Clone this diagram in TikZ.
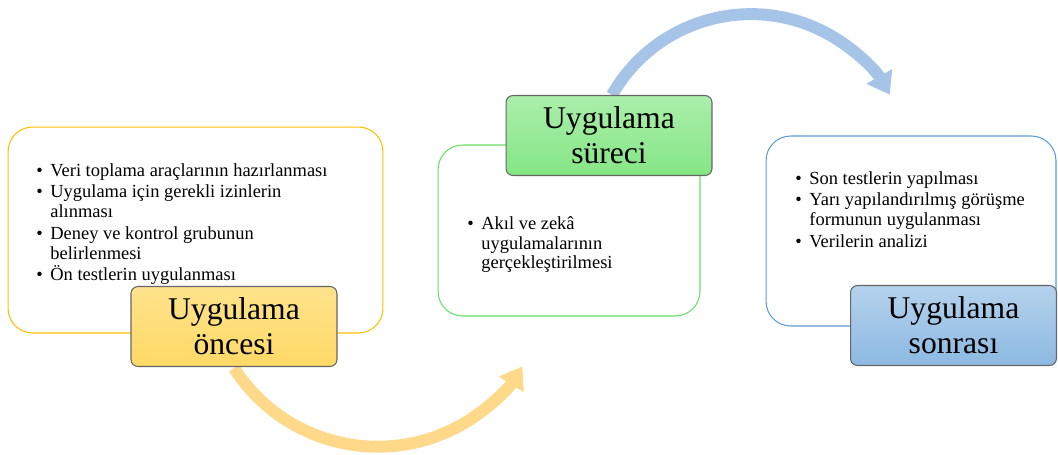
\documentclass[tikz,border=0pt]{standalone}
\usepackage{fontspec}
\setmainfont{Liberation Serif}
\usetikzlibrary{arrows.meta}

\definecolor{boxorange}{HTML}{FFC000}
\definecolor{boxgreen}{HTML}{66E066}
\definecolor{boxblue}{HTML}{5B9BD5}
\definecolor{arcorange}{HTML}{FFD98A}
\definecolor{arcblue}{HTML}{A6C3E8}

\newcommand{\bl}{\makebox[8pt][l]{\textbullet}}
\newcommand{\nobl}{\hspace*{8pt}}

\tikzset{
  outerbox/.style={draw, fill=white, rounded corners=14pt, line width=0.6pt},
  titlebox/.style={draw=black!60, rounded corners=4pt, line width=0.6pt,
    minimum width=4.12cm, minimum height=1.6cm, align=center,
    font=\fontsize{18}{20}\selectfont, inner sep=0pt},
  listtext/.style={anchor=north west, align=left, inner sep=0pt,
    font=\fontsize{10.5}{11.3}\selectfont},
  bigarc/.style={line width=6.8pt, -{Triangle[width=16pt,length=12pt]}},
}

\begin{document}
\begin{tikzpicture}[x=0.02cm, y=-0.02cm]
\useasboundingbox (0,0) rectangle (1058,454);

% arrows behind the boxes
\path (234,368) coordinate (onceend);
\path (612,95) coordinate (sureend);
\draw[bigarc, arcorange] (onceend) arc[start angle=147.4, end angle=32, radius=170.6];
\draw[bigarc, arcblue] (sureend) arc[start angle=209.6, end angle=330.3, radius=159.8];

% outer boxes
\node[outerbox, draw=boxorange, minimum width=7.5cm, minimum height=4.12cm] (oncebox) at (195.5,230) {};
\node[outerbox, draw=boxgreen, minimum width=5.24cm, minimum height=3.42cm] (surebox) at (569,230.5) {};
\node[outerbox, draw=boxblue, minimum width=5.8cm, minimum height=3.8cm] (sonrabox) at (911,231) {};

% lists
\node[listtext] (oncelist) at (36,163) {%
  \bl Veri toplama araçlarının hazırlanması\\[1pt]
  \bl Uygulama için gerekli izinlerin\\
  \nobl alınması\\[1pt]
  \bl Deney ve kontrol grubunun\\
  \nobl belirlenmesi\\[1pt]
  \bl Ön testlerin uygulanması};
\node[listtext] (surelist) at (467,216) {%
  \bl Akıl ve zekâ\\
  \nobl uygulamalarının\\
  \nobl gerçekleştirilmesi};
\node[listtext] (sonralist) at (795,171) {%
  \bl Son testlerin yapılması\\[1pt]
  \bl Yarı yapılandırılmış görüşme\\
  \nobl formunun uygulanması\\[1pt]
  \bl Verilerin analizi};

% title boxes
\node[titlebox, top color=boxorange!45, bottom color=boxorange!60] (once) at (234,326.5) {Uygulama\\öncesi};
\node[titlebox, top color=boxgreen!55, bottom color=boxgreen!80] (sure) at (609,135.5) {Uygulama\\süreci};
\node[titlebox, top color=boxblue!45, bottom color=boxblue!70] (sonra) at (953.5,325.5) {Uygulama\\sonrası};
\end{tikzpicture}
\end{document}
